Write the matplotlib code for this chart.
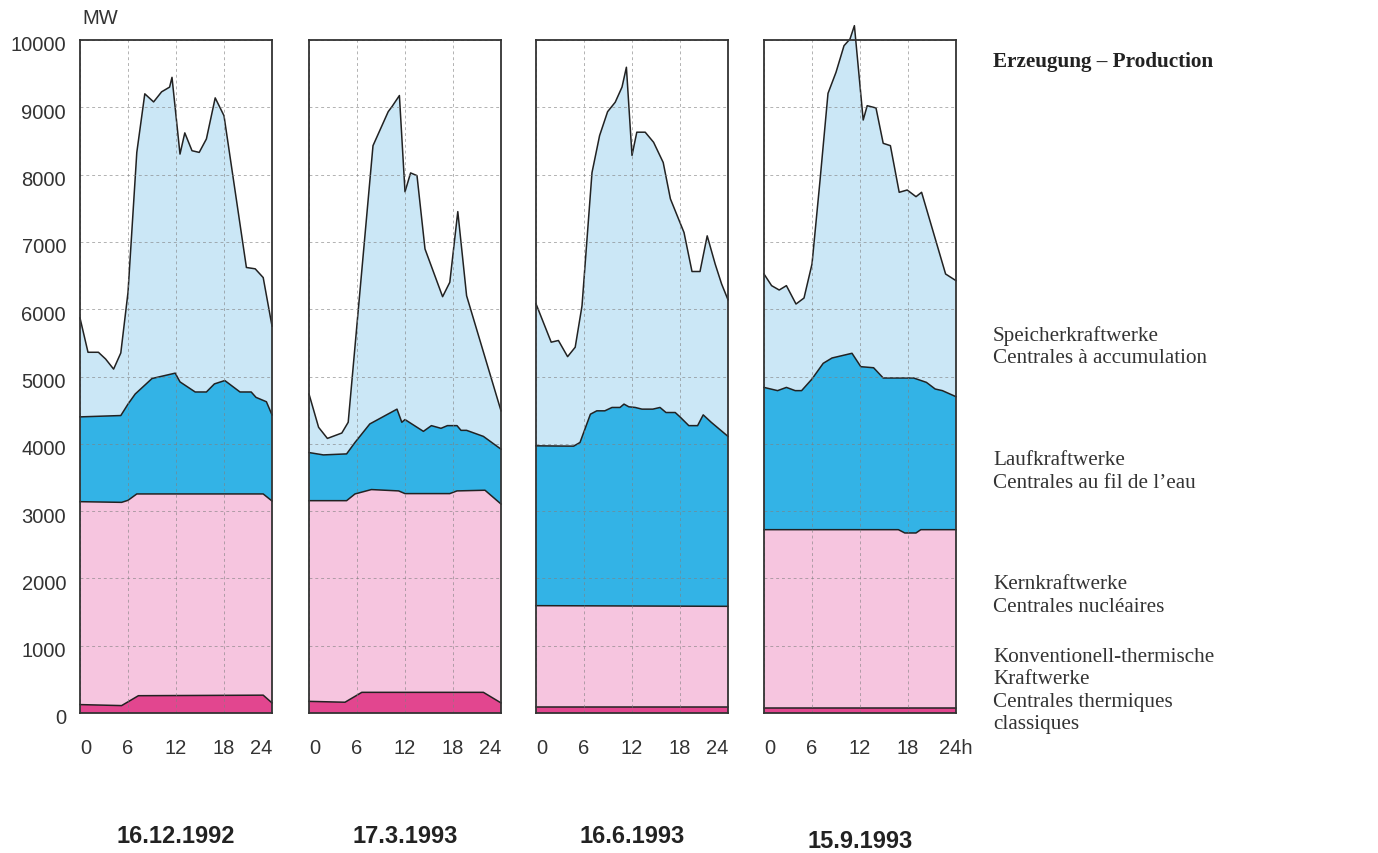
import numpy as np
import matplotlib
matplotlib.use('Agg')
import matplotlib.pyplot as plt
from matplotlib.transforms import ScaledTranslation

days = ['16.12.1992', '17.3.1993', '16.6.1993', '15.9.1993']
hour_ticks = [0, 6, 12, 18, 24]
mw_ticks = [0, 1000, 2000, 3000, 4000, 5000, 6000, 7000, 8000, 9000, 10000]

# cumulative curves (MW): top of each layer, hours of the day
# 16.12.1992
dec_therm_h = [0, 5.2, 7.3, 22.9, 24]
dec_therm = [125, 110, 257, 265, 150]
dec_kern_h = [0, 5.2, 6.0, 7.1, 22.9, 24]
dec_kern = [3140, 3130, 3160, 3255, 3255, 3150]
dec_lauf_h = [0, 5.1, 6.0, 6.9, 9.0, 11.9, 12.5, 14.4, 15.8, 16.8, 18.1, 20.0, 21.4, 22.0, 23.3, 24]
dec_lauf = [4400, 4420, 4590, 4740, 4970, 5050, 4920, 4770, 4770, 4890, 4940, 4770, 4770, 4690, 4625, 4430]
dec_total_h = [0, 1.0, 2.3, 3.2, 4.2, 5.1, 6.0, 7.1, 8.1, 9.2, 10.2, 11.2, 11.5, 12.5, 13.1, 14.0,
               14.9, 15.8, 16.9, 18.0, 20.8, 21.9, 22.9, 24]
dec_total = [5870, 5360, 5360, 5260, 5110, 5350, 6250, 8330, 9200, 9080, 9230, 9300, 9445, 8305, 8620, 8355,
             8330, 8530, 9140, 8875, 6620, 6600, 6470, 5750]

# 17.3.1993
mar_therm_h = [0, 4.5, 6.6, 21.8, 24]
mar_therm = [173, 160, 307, 307, 150]
mar_kern_h = [0, 4.7, 5.75, 7.8, 11.2, 12.0, 17.6, 18.5, 22.0, 24]
mar_kern = [3155, 3155, 3255, 3320, 3300, 3260, 3260, 3300, 3310, 3105]
mar_lauf_h = [0, 1.8, 4.7, 5.75, 7.6, 11.0, 11.6, 12.0, 14.3, 15.3, 16.5, 17.3, 18.5, 19.0, 19.7, 21.8, 24]
mar_lauf = [3870, 3835, 3850, 4020, 4295, 4515, 4320, 4360, 4185, 4270, 4230, 4270, 4270, 4200, 4200, 4110, 3920]
mar_total_h = [0, 1.2, 2.3, 4.1, 4.9, 8.0, 9.9, 10.4, 11.3, 12.0, 12.7, 13.5, 14.5, 16.7, 17.6, 18.6, 19.7, 24]
mar_total = [4740, 4245, 4080, 4160, 4320, 8430, 8935, 9015, 9175, 7745, 8025, 7985, 6895, 6186, 6400, 7450, 6200, 4490]

# 16.6.1993
jun_therm_h = [0, 24]
jun_therm = [88, 88]
jun_kern_h = [0, 24]
jun_kern = [1595, 1585]
jun_lauf_h = [0, 4.7, 5.5, 6.8, 7.6, 8.6, 9.5, 10.5, 11.0, 11.6, 12.4, 13.25, 14.6, 15.5, 16.25, 17.4, 18.0,
              19.1, 20.2, 20.9, 21.9, 24]
jun_lauf = [3970, 3965, 4020, 4440, 4490, 4490, 4540, 4540, 4590, 4550, 4540, 4515, 4515, 4540, 4465, 4465, 4400,
            4270, 4270, 4430, 4320, 4110]
jun_total_h = [0, 1.9, 2.8, 3.95, 4.9, 5.75, 7.0, 7.95, 8.95, 9.9, 10.75, 11.3, 12.0, 12.6, 13.65, 14.7, 15.9,
               16.8, 18.5, 19.5, 20.5, 21.4, 22.4, 23.2, 24]
jun_total = [6080, 5510, 5535, 5295, 5435, 6050, 8030, 8580, 8935, 9075, 9300, 9595, 8285, 8630, 8630, 8480, 8180,
             7640, 7140, 6560, 6560, 7090, 6670, 6375, 6140]

# 15.9.1993
sep_therm_h = [0, 24]
sep_therm = [75, 75]
sep_kern_h = [0, 16.8, 17.6, 19.0, 19.6, 24]
sep_kern = [2724, 2724, 2675, 2675, 2724, 2724]
sep_lauf_h = [0, 1.7, 2.8, 3.9, 4.7, 6.0, 7.4, 8.5, 11.0, 12.1, 13.7, 14.9, 18.7, 20.3, 21.4, 22.3, 24]
sep_lauf = [4838, 4790, 4838, 4790, 4790, 4963, 5196, 5275, 5345, 5146, 5130, 4978, 4978, 4913, 4814, 4790, 4700]
sep_total_h = [0, 0.95, 1.9, 2.8, 4.0, 5.0, 6.0, 7.0, 8.0, 9.0, 10.0, 10.75, 11.3, 12.4, 12.9, 14.0, 14.9, 15.8,
               16.9, 17.9, 19.0, 19.7, 22.7, 24]
sep_total = [6523, 6350, 6285, 6350, 6077, 6166, 6672, 7910, 9207, 9520, 9915, 10015, 10213, 8811, 9024, 8990, 8465,
             8430, 7737, 7771, 7672, 7737, 6523, 6424]

layer_colors = ['#e2468f', '#f6c5df', '#33b3e6', '#cbe7f6']

right_labels = [
    'Speicherkraftwerke\nCentrales à accumulation',
    'Laufkraftwerke\nCentrales au fil de l\u2019eau',
    'Kernkraftwerke\nCentrales nucléaires',
    'Konventionell-thermische\nKraftwerke\nCentrales thermiques\nclassiques',
]

plt.rcParams['font.family'] = ['Liberation Sans', 'DejaVu Sans']


def DrawDay(ax, curves):
    low_h, low_v = [0, 24], [0, 0]
    for (h, v), col in zip(curves, layer_colors):
        xs = list(h) + list(low_h)[::-1]
        ys = list(v) + list(low_v)[::-1]
        ax.fill(xs, ys, color=col, lw=0, clip_on=False, zorder=1)
        ax.plot(h, v, color='#222222', lw=1.1, clip_on=False, zorder=2)
        low_h, low_v = h, v


def main():
    fig = plt.figure(figsize=(13.78, 8.54), dpi=100)
    W, H = 1378.0, 854.0

    all_curves = [
        [(dec_therm_h, dec_therm), (dec_kern_h, dec_kern), (dec_lauf_h, dec_lauf), (dec_total_h, dec_total)],
        [(mar_therm_h, mar_therm), (mar_kern_h, mar_kern), (mar_lauf_h, mar_lauf), (mar_total_h, mar_total)],
        [(jun_therm_h, jun_therm), (jun_kern_h, jun_kern), (jun_lauf_h, jun_lauf), (jun_total_h, jun_total)],
        [(sep_therm_h, sep_therm), (sep_kern_h, sep_kern), (sep_lauf_h, sep_lauf), (sep_total_h, sep_total)],
    ]
    lefts = [80, 309, 536, 764]
    date_y = [-0.182, -0.182, -0.182, -0.19]

    for i, curves in enumerate(all_curves):
        ax = fig.add_axes([lefts[i] / W, 1 - 714 / H, 192 / W, 673 / H])
        DrawDay(ax, curves)
        ax.set_xlim(0, 24)
        ax.set_ylim(0, 10000)
        ax.set_axisbelow(False)
        ax.grid(True, color='#808080', lw=0.7, ls=(0, (3, 3)), alpha=0.6)
        for sp in ax.spines.values():
            sp.set_color('#333333')
            sp.set_linewidth(1.3)
            sp.set_zorder(5)

        labels = [str(t) for t in hour_ticks]
        if i == 3:
            labels[-1] = '24h'
        ax.set_xticks(hour_ticks, labels)
        ax.set_yticks(mw_ticks)
        ax.tick_params(length=0, labelsize=14.5, labelcolor='#333333')
        ax.tick_params(axis='x', pad=18)
        ax.tick_params(axis='y', pad=10)
        xl = ax.get_xticklabels()
        xl[0].set_ha('left')
        xl[-1].set_ha('center' if i == 3 else 'right')

        if i == 0:
            off = ScaledTranslation(0, -0.03, fig.dpi_scale_trans)
            for lab in ax.get_yticklabels():
                lab.set_transform(lab.get_transform() + off)
            ax.text(0.01, 1.034, 'MW', transform=ax.transAxes, fontsize=14.5, color='#333333',
                    ha='left', va='center')
        else:
            ax.set_yticklabels([])

        ax.text(0.5, date_y[i], days[i], transform=ax.transAxes, ha='center', va='center',
                fontsize=17, fontweight='bold', color='#222222')

    fig.text(993 / W, 1 - 62 / H, 'Erzeugung \u2013 Production', family='Liberation Serif',
             fontsize=15.2, fontweight='bold', color='#222222', ha='left', va='center')
    label_y = [347, 472, 596, 691]
    for txt, y in zip(right_labels, label_y):
        fig.text(993 / W, 1 - y / H, txt, family='Liberation Serif', fontsize=15.2,
                 color='#333333', ha='left', va='center', linespacing=1.24)

    plt.savefig('out.png', dpi=100)


main()
